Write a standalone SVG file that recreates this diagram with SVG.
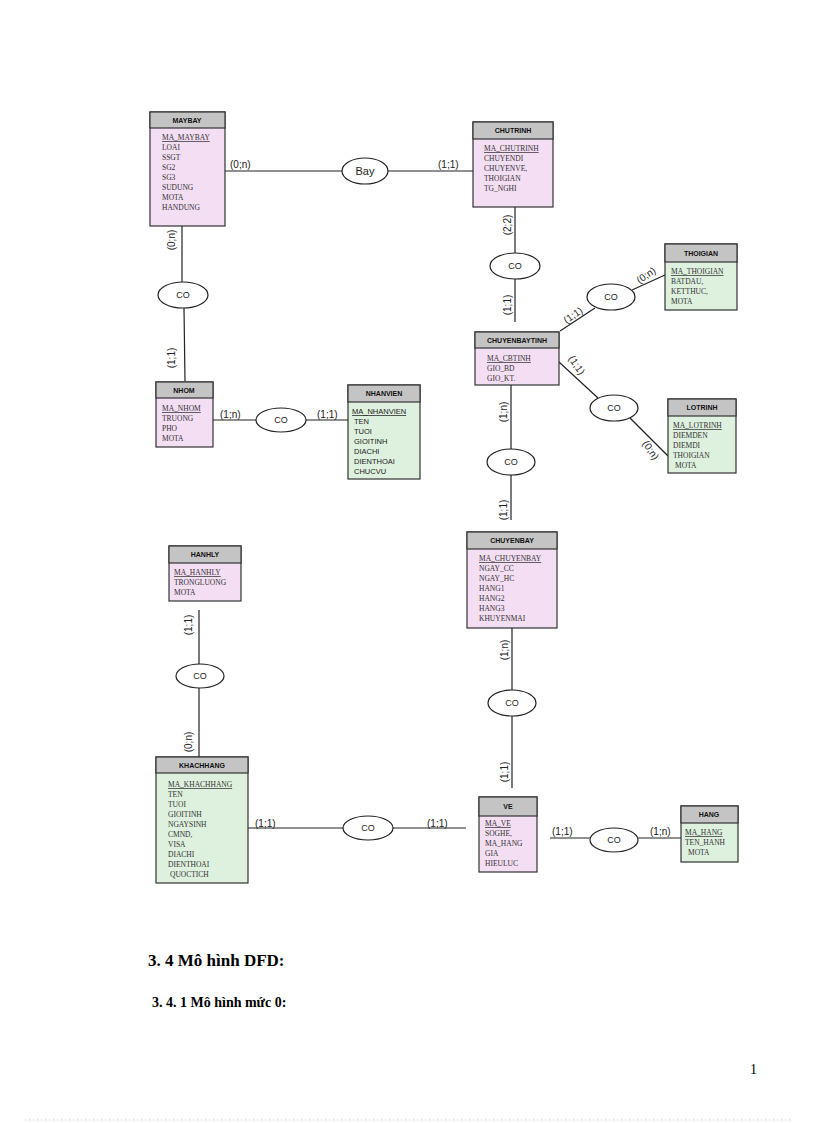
<svg xmlns="http://www.w3.org/2000/svg" width="816" height="1123" viewBox="0 0 816 1123">
<style>
.p{fill:#f3def3;stroke:#333;stroke-width:1.2}
.g{fill:#def0de;stroke:#333;stroke-width:1.2}
.h{fill:#c4c4c4;stroke:#333;stroke-width:1.2}
.t{font-family:"Liberation Sans",Arial,sans-serif;font-size:7px;font-weight:bold;text-anchor:middle;fill:#111}
.a{font-family:"Liberation Serif",serif;font-size:7.5px;fill:#333}
.as{font-family:"Liberation Sans",sans-serif;font-size:7.5px;fill:#222}
.u{text-decoration:underline}
.e{fill:#fff;stroke:#222;stroke-width:1.2}
.el{font-family:"Liberation Sans",Arial,sans-serif;font-size:9px;text-anchor:middle;fill:#222}
.c{font-family:"Liberation Sans",Arial,sans-serif;font-size:10px;fill:#222}
line{stroke:#222;stroke-width:1.2}
</style>
<g id="connectors">
<line x1="225" y1="171" x2="342" y2="171"/><line x1="388" y1="171" x2="473" y2="171"/>
<line x1="182" y1="226" x2="182" y2="282"/><line x1="184" y1="308" x2="185" y2="381"/>
<line x1="213" y1="420" x2="256" y2="420"/><line x1="306" y1="420" x2="348" y2="420"/>
<line x1="515" y1="207" x2="515" y2="253"/><line x1="515" y1="279" x2="515" y2="322"/>
<line x1="560" y1="331" x2="595" y2="308"/><line x1="632" y1="290" x2="665" y2="275"/>
<line x1="559" y1="362" x2="598" y2="398"/><line x1="630" y1="418" x2="668" y2="456"/>
<line x1="511" y1="385" x2="511" y2="449"/><line x1="511" y1="475" x2="511" y2="520"/>
<line x1="512" y1="628" x2="512" y2="690"/><line x1="512" y1="716" x2="512" y2="788"/>
<line x1="199" y1="610" x2="199" y2="664"/><line x1="199" y1="688" x2="199" y2="757"/>
<line x1="248" y1="828" x2="343" y2="828"/><line x1="393" y1="828" x2="466" y2="828"/>
<line x1="550" y1="838" x2="590" y2="838"/><line x1="638" y1="838" x2="681" y2="838"/>
</g>
<g id="labels">
<text class="c" x="230" y="168">(0;n)</text><text class="c" x="438" y="168">(1;1)</text>
<text class="c" transform="translate(175,240) rotate(-90)" text-anchor="middle">(0;n)</text>
<text class="c" transform="translate(175,358) rotate(-90)" text-anchor="middle">(1;1)</text>
<text class="c" x="220" y="418">(1;n)</text><text class="c" x="317" y="418">(1;1)</text>
<text class="c" transform="translate(511,225) rotate(-90)" text-anchor="middle">(2;2)</text>
<text class="c" transform="translate(511,305) rotate(-90)" text-anchor="middle">(1;1)</text>
<text class="c" transform="translate(575,318) rotate(-35)" text-anchor="middle">(1;1)</text>
<text class="c" transform="translate(648,278) rotate(-35)" text-anchor="middle">(0;n)</text>
<text class="c" transform="translate(574,367) rotate(55)" text-anchor="middle">(1;1)</text>
<text class="c" transform="translate(648,452) rotate(55)" text-anchor="middle">(0;n)</text>
<text class="c" transform="translate(507,412) rotate(-90)" text-anchor="middle">(1;n)</text>
<text class="c" transform="translate(507,510) rotate(-90)" text-anchor="middle">(1;1)</text>
<text class="c" transform="translate(508,650) rotate(-90)" text-anchor="middle">(1;n)</text>
<text class="c" transform="translate(508,772) rotate(-90)" text-anchor="middle">(1;1)</text>
<text class="c" transform="translate(192,625) rotate(-90)" text-anchor="middle">(1;1)</text>
<text class="c" transform="translate(192,742) rotate(-90)" text-anchor="middle">(0;n)</text>
<text class="c" x="255" y="827">(1;1)</text><text class="c" x="427" y="827">(1;1)</text>
<text class="c" x="552" y="835">(1;1)</text><text class="c" x="650" y="835">(1;n)</text>
</g>
<g id="rel-bay"><ellipse class="e" cx="365" cy="171" rx="23" ry="13"/><text class="el" x="365" y="175" style="font-size:11px">Bay</text></g>
<g id="rel-co1"><ellipse class="e" cx="183" cy="295" rx="25" ry="13"/><text class="el" x="183" y="298">CO</text></g>
<g id="rel-co2"><ellipse class="e" cx="281" cy="420" rx="25" ry="12"/><text class="el" x="281" y="423">CO</text></g>
<g id="rel-co3"><ellipse class="e" cx="515" cy="266" rx="25" ry="13"/><text class="el" x="515" y="269">CO</text></g>
<g id="rel-co4"><ellipse class="e" cx="611" cy="297" rx="24" ry="13"/><text class="el" x="611" y="300">CO</text></g>
<g id="rel-co5"><ellipse class="e" cx="614" cy="408" rx="24" ry="13"/><text class="el" x="614" y="411">CO</text></g>
<g id="rel-co6"><ellipse class="e" cx="511" cy="462" rx="24" ry="13"/><text class="el" x="511" y="465">CO</text></g>
<g id="rel-co7"><ellipse class="e" cx="512" cy="703" rx="24" ry="13"/><text class="el" x="512" y="706">CO</text></g>
<g id="rel-co8"><ellipse class="e" cx="200" cy="676" rx="24" ry="12"/><text class="el" x="200" y="679">CO</text></g>
<g id="rel-co9"><ellipse class="e" cx="368" cy="828" rx="25" ry="12"/><text class="el" x="368" y="831">CO</text></g>
<g id="rel-co10"><ellipse class="e" cx="614" cy="840" rx="24" ry="12"/><text class="el" x="614" y="843">CO</text></g>
<g id="MAYBAY"><rect class="p" x="150" y="112" width="75" height="114"/><rect class="h" x="150" y="112" width="75" height="16"/><text class="t" x="187" y="123">MAYBAY</text>
<text class="a" x="162" y="140"><tspan class="u">MA_MAYBAY</tspan><tspan x="162" dy="10">LOAI</tspan><tspan x="162" dy="10">SSGT</tspan><tspan x="162" dy="10">SG2</tspan><tspan x="162" dy="10">SG3</tspan><tspan x="162" dy="10">SUDUNG</tspan><tspan x="162" dy="10">MOTA</tspan><tspan x="162" dy="10">HANDUNG</tspan></text></g>
<g id="CHUTRINH"><rect class="p" x="473" y="122" width="80" height="85"/><rect class="h" x="473" y="122" width="80" height="17"/><text class="t" x="513" y="133">CHUTRINH</text>
<text class="a" x="484" y="151"><tspan class="u">MA_CHUTRINH</tspan><tspan x="484" dy="10">CHUYENDI</tspan><tspan x="484" dy="10">CHUYENVE,</tspan><tspan x="484" dy="10">THOIGIAN</tspan><tspan x="484" dy="10">TG_NGHI</tspan></text></g>
<g id="NHOM"><rect class="p" x="156" y="382" width="57" height="65"/><rect class="h" x="156" y="382" width="57" height="16"/><text class="t" x="184" y="393">NHOM</text>
<text class="a" x="162" y="411"><tspan class="u">MA_NHOM</tspan><tspan x="162" dy="10">TRUONG</tspan><tspan x="162" dy="10">PHO</tspan><tspan x="162" dy="10">MOTA</tspan></text></g>
<g id="NHANVIEN"><rect class="g" x="348" y="385" width="72" height="94"/><rect class="h" x="348" y="385" width="72" height="17"/><text class="t" x="384" y="396">NHANVIEN</text>
<text class="as" x="352" y="414"><tspan class="u">MA_NHANVIEN</tspan><tspan x="354" dy="10">TEN</tspan><tspan x="354" dy="10">TUOI</tspan><tspan x="354" dy="10">GIOITINH</tspan><tspan x="354" dy="10">DIACHI</tspan><tspan x="354" dy="10">DIENTHOAI</tspan><tspan x="354" dy="10">CHUCVU</tspan></text></g>
<g id="THOIGIAN"><rect class="g" x="665" y="244" width="72" height="66"/><rect class="h" x="665" y="244" width="72" height="18"/><text class="t" x="701" y="256">THOIGIAN</text>
<text class="a" x="671" y="274"><tspan class="u">MA_THOIGIAN</tspan><tspan x="671" dy="10">BATDAU,</tspan><tspan x="671" dy="10">KETTHUC,</tspan><tspan x="671" dy="10">MOTA</tspan></text></g>
<g id="CHUYENBAYTINH"><rect class="p" x="475" y="332" width="84" height="53"/><rect class="h" x="475" y="332" width="84" height="16"/><text class="t" x="517" y="343">CHUYENBAYTINH</text>
<text class="a" x="487" y="361"><tspan class="u">MA_CBTINH</tspan><tspan x="487" dy="10">GIO_BD</tspan><tspan x="487" dy="10">GIO_KT.</tspan></text></g>
<g id="LOTRINH"><rect class="g" x="668" y="399" width="68" height="74"/><rect class="h" x="668" y="399" width="68" height="17"/><text class="t" x="702" y="410">LOTRINH</text>
<text class="a" x="673" y="428"><tspan class="u">MA_LOTRINH</tspan><tspan x="673" dy="10">DIEMDEN</tspan><tspan x="673" dy="10">DIEMDI</tspan><tspan x="673" dy="10">THOIGIAN</tspan><tspan x="675" dy="10">MOTA</tspan></text></g>
<g id="HANHLY"><rect class="p" x="169" y="546" width="72" height="55"/><rect class="h" x="169" y="546" width="72" height="17"/><text class="t" x="205" y="557">HANHLY</text>
<text class="a" x="174" y="575"><tspan class="u">MA_HANHLY</tspan><tspan x="174" dy="10">TRONGLUONG</tspan><tspan x="174" dy="10">MOTA</tspan></text></g>
<g id="CHUYENBAY"><rect class="p" x="467" y="532" width="90" height="96"/><rect class="h" x="467" y="532" width="90" height="17"/><text class="t" x="512" y="543">CHUYENBAY</text>
<text class="a" x="479" y="561"><tspan class="u">MA_CHUYENBAY</tspan><tspan x="479" dy="10">NGAY_CC</tspan><tspan x="479" dy="10">NGAY_HC</tspan><tspan x="479" dy="10">HANG1</tspan><tspan x="479" dy="10">HANG2</tspan><tspan x="479" dy="10">HANG3</tspan><tspan x="479" dy="10">KHUYENMAI</tspan></text></g>
<g id="KHACHHANG"><rect class="g" x="156" y="757" width="92" height="126"/><rect class="h" x="156" y="757" width="92" height="16"/><text class="t" x="202" y="768">KHACHHANG</text>
<text class="a" x="168" y="787"><tspan class="u">MA_KHACHHANG</tspan><tspan x="168" dy="10">TEN</tspan><tspan x="168" dy="10">TUOI</tspan><tspan x="168" dy="10">GIOITINH</tspan><tspan x="168" dy="10">NGAYSINH</tspan><tspan x="168" dy="10">CMND,</tspan><tspan x="168" dy="10">VISA</tspan><tspan x="168" dy="10">DIACHI</tspan><tspan x="168" dy="10">DIENTHOAI</tspan><tspan x="170" dy="10">QUOCTICH</tspan></text></g>
<g id="VE"><rect class="p" x="479" y="797" width="58" height="75"/><rect class="h" x="479" y="797" width="58" height="19"/><text class="t" x="508" y="809">VE</text>
<text class="a" x="485" y="826"><tspan class="u">MA_VE</tspan><tspan x="485" dy="10">SOGHE,</tspan><tspan x="485" dy="10">MA_HANG</tspan><tspan x="485" dy="10">GIA</tspan><tspan x="485" dy="10">HIEULUC</tspan></text></g>
<g id="HANG"><rect class="g" x="681" y="806" width="57" height="56"/><rect class="h" x="681" y="806" width="57" height="17"/><text class="t" x="709" y="817">HANG</text>
<text class="a" x="685" y="835"><tspan class="u">MA_HANG</tspan><tspan x="685" dy="10">TEN_HANH</tspan><tspan x="688" dy="10">MOTA</tspan></text></g>
<text x="148" y="966" style="font-family:'Liberation Serif',serif;font-size:17px;font-weight:bold">3. 4 Mô hình DFD:</text>
<text x="152" y="1007" style="font-family:'Liberation Serif',serif;font-size:14px;font-weight:bold">3. 4. 1 Mô hình mức 0:</text>
<text x="750" y="1074" style="font-family:'Liberation Serif',serif;font-size:14px">1</text>
<line x1="25" y1="1120" x2="790" y2="1120" style="stroke:#bbb;stroke-width:1;stroke-dasharray:1 3"/>
</svg>
